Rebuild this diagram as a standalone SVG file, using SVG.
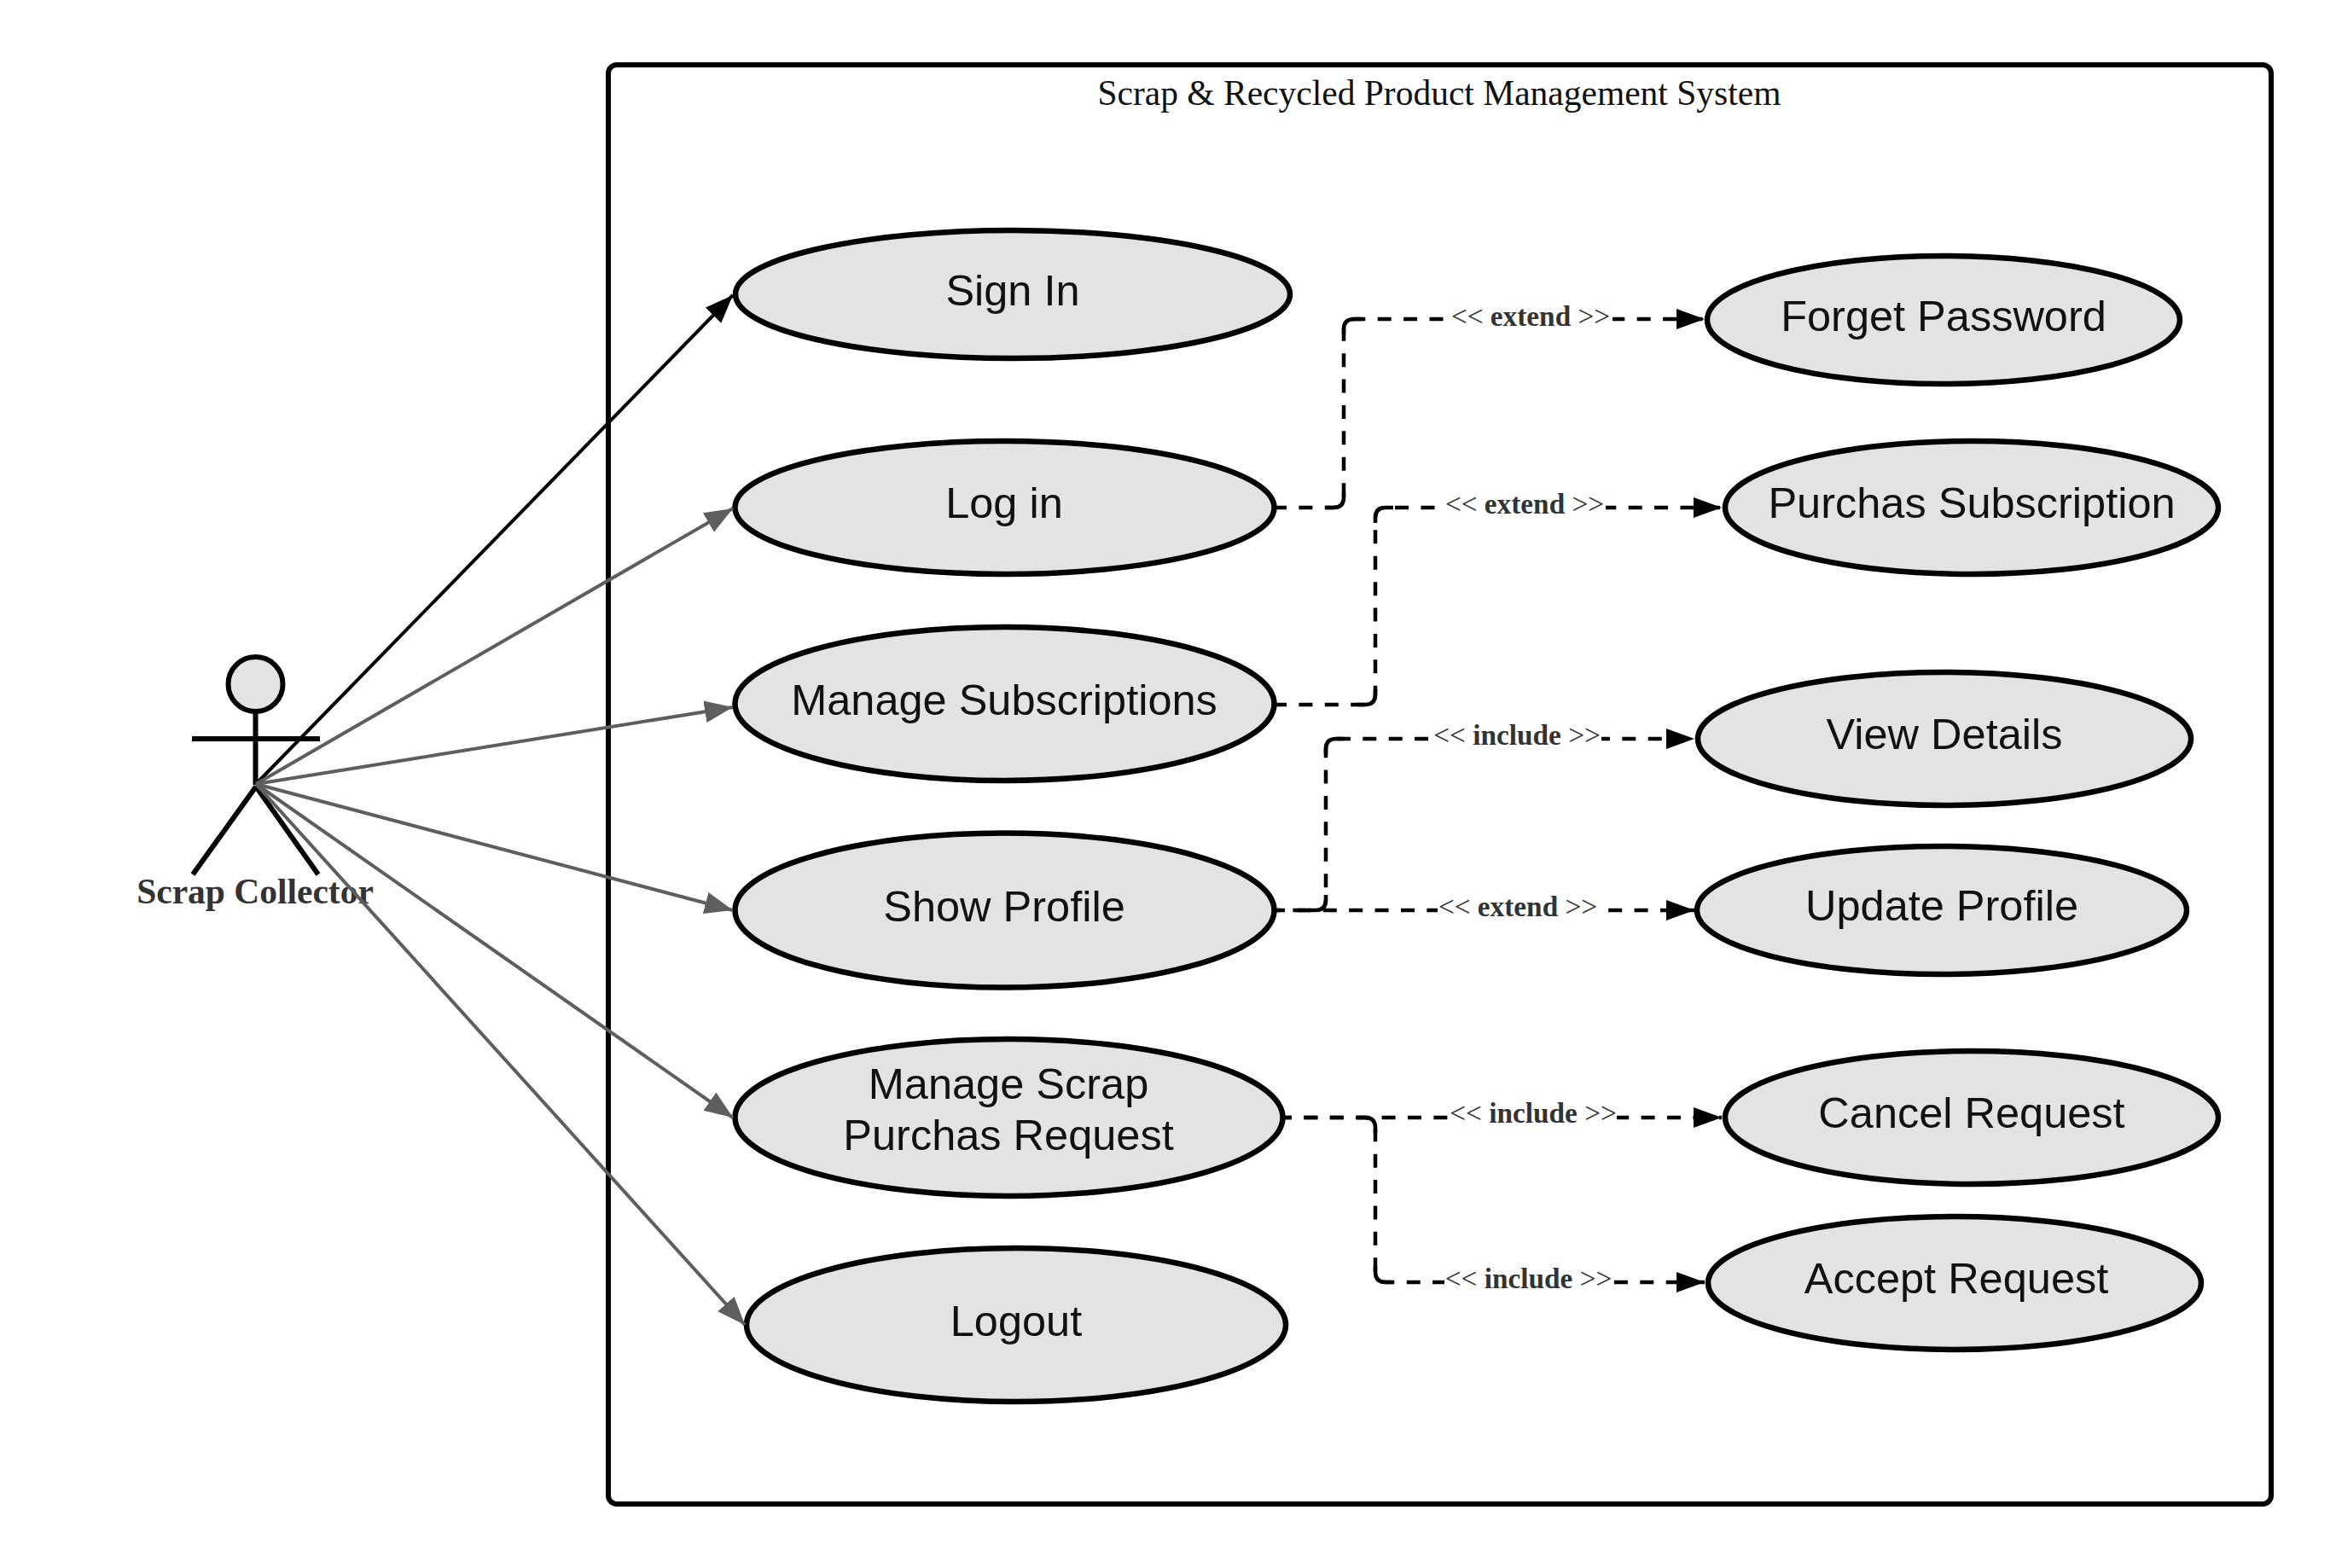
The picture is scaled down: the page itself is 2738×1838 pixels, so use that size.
<svg xmlns="http://www.w3.org/2000/svg" width="2738" height="1838" viewBox="0 0 2738 1838">
<style>
.uc{fill:#e3e3e3;stroke:#000;stroke-width:6.500}
.t{font-family:"Liberation Sans",Arial,sans-serif;font-size:50.500px;fill:#111;text-anchor:middle}
.f{fill:none;stroke:#000;stroke-width:6}
.s{fill:none;stroke:#5e5e5e;stroke-width:4;marker-end:url(#ag)}
.k{fill:none;stroke:#000;stroke-width:4;marker-end:url(#ab)}
.d{fill:none;stroke:#000;stroke-width:4.500;stroke-dasharray:16 14.400;marker-end:url(#ad)}
.c{fill:none;stroke:#000;stroke-width:4.500}
.lb{fill:#fff}
.l{font-family:"Liberation Serif","Times New Roman",serif;font-size:33.300px;fill:#333;text-anchor:middle}
.l tspan{font-weight:bold}
</style>
<defs>
<marker id="ab" markerUnits="userSpaceOnUse" markerWidth="36" markerHeight="28" refX="33" refY="13" orient="auto"><path d="M0 0L33 13L0 26Z" fill="#000"/></marker>
<marker id="ag" markerUnits="userSpaceOnUse" markerWidth="36" markerHeight="28" refX="33" refY="13" orient="auto"><path d="M0 0L33 13L0 26Z" fill="#5e5e5e"/></marker>
<marker id="ad" markerUnits="userSpaceOnUse" markerWidth="36" markerHeight="28" refX="33" refY="12" orient="auto"><path d="M0 0L33 12L0 24Z" fill="#000"/></marker>
</defs>
<rect width="2738" height="1838" fill="#fff"/>
<g id="system">
<rect x="713" y="76" width="1949" height="1687" rx="10" fill="#fff" stroke="#000" stroke-width="6"/>
<text x="1687" y="123" font-family="Liberation Serif,Times New Roman,serif" font-size="41.500" fill="#111" text-anchor="middle">Scrap &amp; Recycled Product Management System</text>
</g>
<g id="actor">
<circle cx="299.500" cy="802" r="32" fill="#e3e3e3" stroke="#000" stroke-width="6"/>
<path class="f" d="M299.500 834V920M225 866H375M300 922L226 1025M300 922L373 1025"/>
<text x="299" y="1059" font-family="Liberation Serif,Times New Roman,serif" font-size="41.500" font-weight="bold" fill="#333" text-anchor="middle">Scrap Collector</text>
</g>
<g id="uc-signin"><ellipse class="uc" cx="1187" cy="345" rx="325" ry="75"/><text class="t" x="1187" y="358">Sign In</text></g>
<g id="uc-login"><ellipse class="uc" cx="1177.500" cy="595" rx="316" ry="78"/><text class="t" x="1177" y="607">Log in</text></g>
<g id="uc-subs"><ellipse class="uc" cx="1177.500" cy="825" rx="316" ry="90"/><text class="t" x="1177" y="838">Manage Subscriptions</text></g>
<g id="uc-profile"><ellipse class="uc" cx="1177.500" cy="1067" rx="316" ry="90.500"/><text class="t" x="1177" y="1080">Show Profile</text></g>
<g id="uc-scrap"><ellipse class="uc" cx="1182.500" cy="1310" rx="321" ry="92"/><text class="t" x="1182" y="1288">Manage Scrap</text><text class="t" x="1182" y="1348">Purchas Request</text></g>
<g id="uc-logout"><ellipse class="uc" cx="1191" cy="1553" rx="316" ry="90"/><text class="t" x="1191" y="1566">Logout</text></g>
<g id="uc-forget"><ellipse class="uc" cx="2278" cy="375" rx="277" ry="75"/><text class="t" x="2278" y="388">Forget Password</text></g>
<g id="uc-purchase"><ellipse class="uc" cx="2311" cy="595" rx="289" ry="78"/><text class="t" x="2311" y="607">Purchas Subscription</text></g>
<g id="uc-view"><ellipse class="uc" cx="2279" cy="866" rx="289" ry="78"/><text class="t" x="2279" y="878">View Details</text></g>
<g id="uc-update"><ellipse class="uc" cx="2276" cy="1067" rx="287" ry="75"/><text class="t" x="2276" y="1079">Update Profile</text></g>
<g id="uc-cancel"><ellipse class="uc" cx="2311" cy="1310" rx="289" ry="78"/><text class="t" x="2311" y="1322">Cancel Request</text></g>
<g id="uc-accept"><ellipse class="uc" cx="2291" cy="1504" rx="289" ry="78"/><text class="t" x="2293" y="1516">Accept Request</text></g>
<g id="connectors">
<path class="k" d="M300 919L859 346"/>
<path class="s" d="M300 919L859 596"/>
<path class="s" d="M300 919L859 829"/>
<path class="s" d="M300 919L859 1067"/>
<path class="s" d="M300 919L859 1310"/>
<path class="s" d="M300 919L873 1553"/>
<path class="d" stroke-dashoffset="4" d="M1496 595H1563Q1575 595 1575 583V386Q1575 374 1587 374H1998"/>
<path class="d" stroke-dashoffset="4" d="M1496 826H1600Q1612 826 1612 814V607Q1612 595 1624 595H2018"/>
<path class="d" stroke-dashoffset="11" d="M1496 1067H1542Q1554 1067 1554 1055V878Q1554 866 1566 866H1986"/>
<path class="d" stroke-dashoffset="6" d="M1496 1067H1986"/>
<path class="d" stroke-dashoffset="8" d="M1506 1310H2018"/>
<path class="d" stroke-dashoffset="8" d="M1506 1310H1600Q1612 1310 1612 1322V1491Q1612 1503 1624 1503H1998"/>
<path class="c" d="M1554 595H1563Q1575 595 1575 583V577M1575 392V386Q1575 374 1587 374H1596M1591 826H1600Q1612 826 1612 814V808M1612 613V607Q1612 595 1624 595H1633M1533 1067H1542Q1554 1067 1554 1055V1049M1554 884V878Q1554 866 1566 866H1575M1591 1310H1600Q1612 1310 1612 1322V1328M1612 1485V1491Q1612 1503 1624 1503H1631"/>
<g>
<rect class="lb" x="1702" y="355" width="188" height="36"/><text class="l" x="1794" y="382">&lt;&lt; <tspan>extend</tspan> &gt;&gt;</text>
<rect class="lb" x="1694" y="576" width="188" height="36"/><text class="l" x="1787" y="602">&lt;&lt; <tspan>extend</tspan> &gt;&gt;</text>
<rect class="lb" x="1680" y="847" width="197" height="36"/><text class="l" x="1778" y="873">&lt;&lt; <tspan>include</tspan> &gt;&gt;</text>
<rect class="lb" x="1685" y="1048" width="188" height="36"/><text class="l" x="1779" y="1074">&lt;&lt; <tspan>extend</tspan> &gt;&gt;</text>
<rect class="lb" x="1698" y="1291" width="197" height="36"/><text class="l" x="1797" y="1316">&lt;&lt; <tspan>include</tspan> &gt;&gt;</text>
<rect class="lb" x="1693" y="1484" width="197" height="36"/><text class="l" x="1791.500" y="1510">&lt;&lt; <tspan>include</tspan> &gt;&gt;</text>
</g>
</g>
</svg>
